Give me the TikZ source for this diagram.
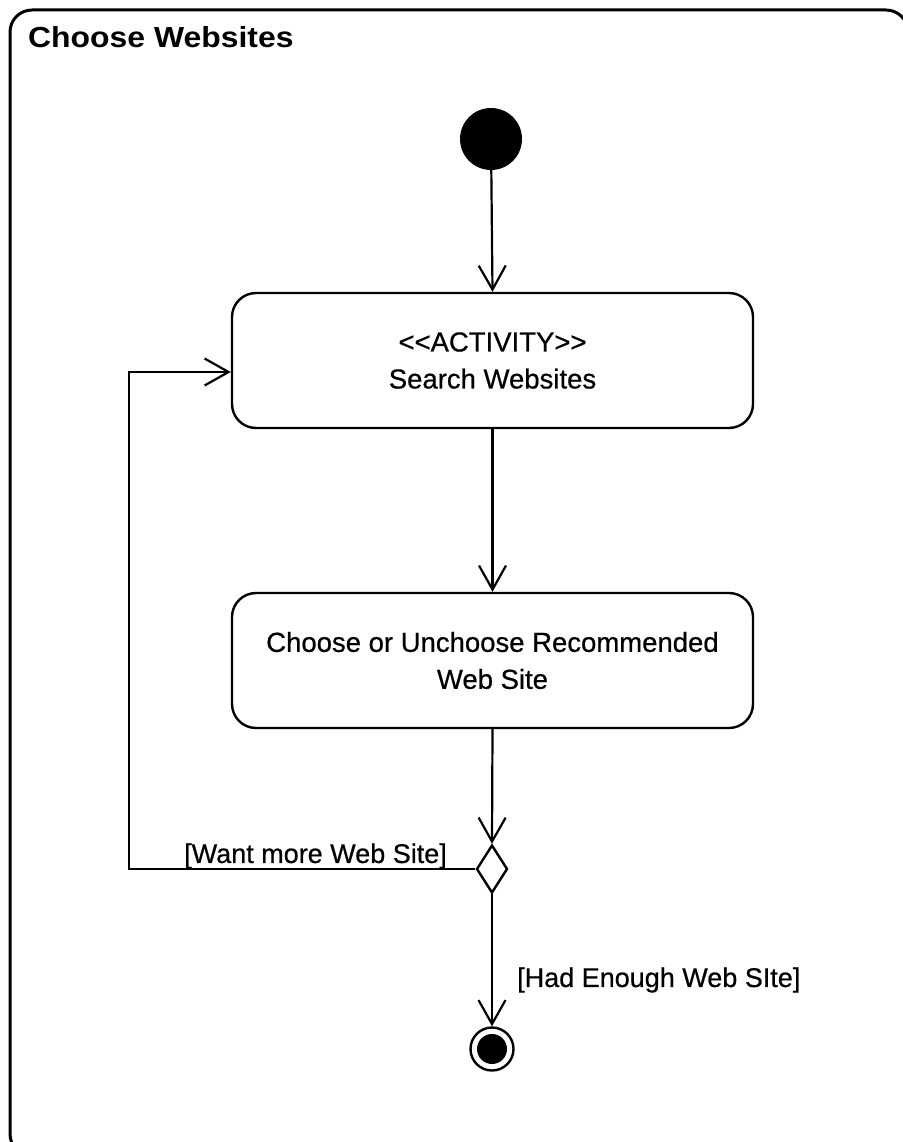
\documentclass[tikz,border=0pt]{standalone}
\usepackage{fontspec}
\setmainfont{Liberation Sans}
\newfontfamily\bodyfont{Liberation Sans}[FakeBold=0.6]
\usetikzlibrary{arrows.meta,shapes.geometric}

\tikzset{
  flow/.style={line width=2.2pt, -{Straight Barb[length=24pt, width=27pt, line width=2.2pt]}},
  actbox/.style={draw, line width=2.4pt, rectangle, rounded corners=24pt,
    minimum width=521pt, minimum height=135pt, align=center,
    font=\bodyfont\fontsize{27.5}{37}\selectfont},
  guard/.style={inner sep=0pt, font=\bodyfont\fontsize{27}{32}\selectfont},
}

\begin{document}
\begin{tikzpicture}[x=1pt, y=-1pt]
  \useasboundingbox (0,0) rectangle (902,1142);

  % enclosing activity frame
  \draw[line width=3pt, rounded corners=22pt] (10,10) rectangle (908,1156);
  \node[anchor=base west, inner sep=0pt, font=\bfseries\fontsize{29}{32}\selectfont]
    (title) at (28,48) {\scalebox{1.1}[1]{Choose Websites}};

  % initial node
  \node[circle, fill=black, minimum size=62pt, inner sep=0pt] (start) at (491,139) {};

  % actions
  \node[actbox] (search) at (492.5,360.5) {<{}<ACTIVITY>{}>\\Search Websites};
  \node[actbox] (choose) at (492.5,660.5) {Choose or Unchoose Recommended\\Web Site};

  % decision
  \node[diamond, draw, line width=2.4pt, minimum width=31pt, minimum height=48pt,
        inner sep=0pt] (dec) at (492,869) {};

  % final node
  \node[circle, draw, line width=2.4pt, minimum size=43pt, inner sep=0pt] (final) at (492,1049) {};
  \fill (final.center) circle (15pt);

  % flows
  \draw[flow] (start) -- (search.north);
  \draw[flow] (search.south) -- (choose.north);
  \draw[flow] (choose.south) -- (dec.north);
  \coordinate (loop) at (129,869);
  \draw[flow] (dec.west) -- (loop) |- ([yshift=-11.5pt]search.west);
  \draw[flow] (dec.south) -- (final.north);

  % guards
  \node[guard, anchor=east] (more) at (447,856) {[Want more Web Site]};
  \node[guard, anchor=west] (enough) at (517,980) {[Had Enough Web SIte]};
\end{tikzpicture}
\end{document}
